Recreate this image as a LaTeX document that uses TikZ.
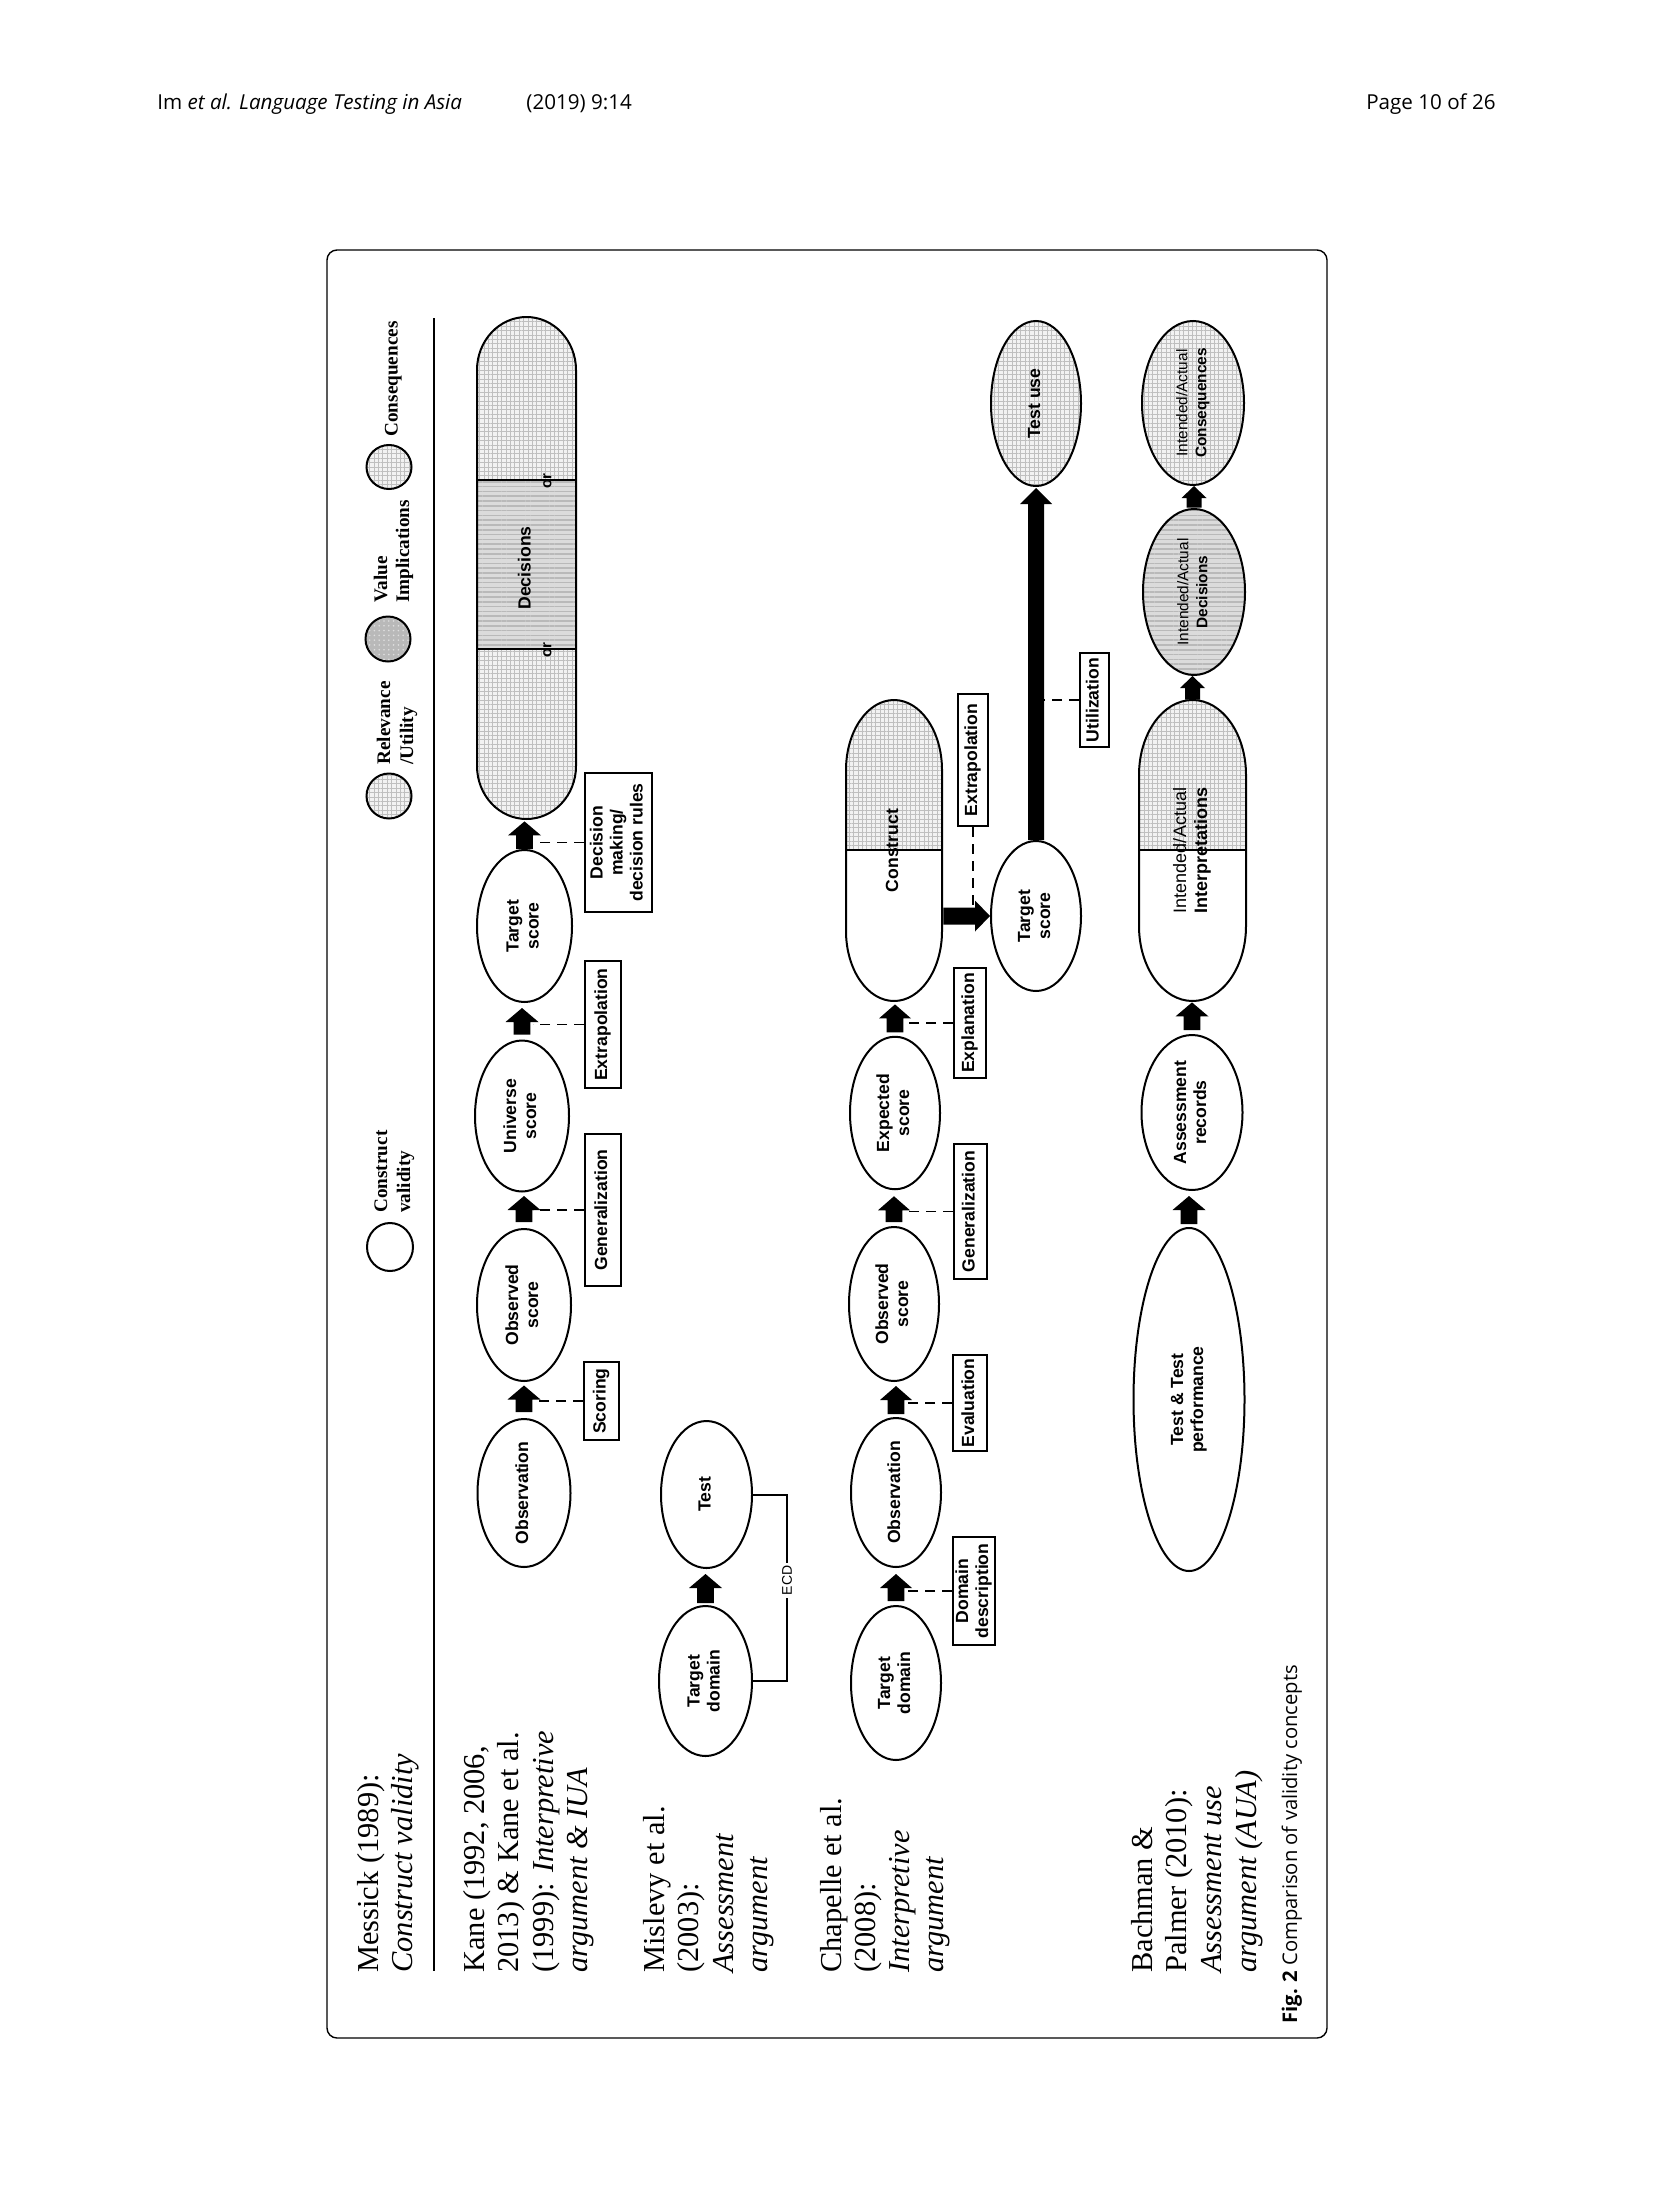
\documentclass[tikz,border=0pt]{standalone}
\usepackage{fontspec}
\usepackage{graphicx}
\setmainfont{Liberation Serif}
\newfontfamily\diagfont{Liberation Sans}
\newfontfamily\capfont{Open Sans}
\usetikzlibrary{shapes.geometric, calc, patterns.meta}

% fonts
\newcommand{\nodefont}{\diagfont\bfseries\fontsize{8.8}{10}\selectfont}
\newcommand{\smallnodefont}{\diagfont\bfseries\fontsize{7.7}{9.5}\selectfont}
\newcommand{\midnodefont}{\diagfont\bfseries\fontsize{9}{10.5}\selectfont}
\newcommand{\rowfont}{\fontsize{15.2}{18}\selectfont}
\newcommand{\legfont}{\bfseries\fontsize{9.6}{12}\selectfont}

% text turned to read from bottom to top
\newcommand{\rt}[1]{\rotatebox{90}{\begin{tabular}{@{}c@{}}#1\end{tabular}}}

% block arrow pointing up: from, to, gap at start, gap at end, shaft half width, head half width, head length
\newcommand{\blkup}[7]{%
  \fill let \p1=(#1), \p2=(#2) in
    (\x1-#5,\y1+#3) -- (\x1-#5,\y2-#4-#7) -- (\x1-#6,\y2-#4-#7) -- (\x1,\y2-#4)
    -- (\x1+#6,\y2-#4-#7) -- (\x1+#5,\y2-#4-#7) -- (\x1+#5,\y1+#3) -- cycle;}
% block arrow pointing right
\newcommand{\blkright}[7]{%
  \fill let \p1=(#1), \p2=(#2) in
    (\x1+#3,\y2-#5) -- (\x2-#4-#7,\y2-#5) -- (\x2-#4-#7,\y2-#6) -- (\x2-#4,\y2)
    -- (\x2-#4-#7,\y2+#6) -- (\x2-#4-#7,\y2+#5) -- (\x1+#3,\y2+#5) -- cycle;}

\tikzset{
  ell/.style={ellipse, draw, line width=1pt, inner sep=0pt, font=\nodefont},
  lbl/.style={rectangle, draw, line width=1pt, inner sep=0pt, font=\nodefont},
  area/.style={rectangle, inner sep=0pt, font=\nodefont},
  dsh/.style={line width=0.8pt, dash pattern=on 5pt off 3.5pt},
  gridfill/.style={preaction={fill=gray!10},
    preaction={pattern={Lines[angle=0,distance=2.2pt,line width=0.45pt]}, pattern color=gray!50},
    preaction={pattern={Lines[angle=90,distance=2.2pt,line width=0.45pt]}, pattern color=gray!50}},
  stripefill/.style={preaction={fill=gray!28},
    preaction={pattern={Lines[angle=0,distance=2.4pt,line width=0.8pt]}, pattern color=gray!55}},
  darkfill/.style={preaction={fill=gray!55},
    preaction={pattern={Dots[distance=2.4pt,radius=0.45pt]}, pattern color=gray!25}},
  rowlab/.style={rotate=90, anchor=base west, inner sep=0pt, font=\rowfont},
  leglab/.style={rotate=90, anchor=base west, inner sep=0pt, font=\legfont},
}

\begin{document}
\begin{tikzpicture}[x=0.5pt, y=-0.5pt]
\fill[white] (0,0) rectangle (1654,2205);
\useasboundingbox (0,0) rectangle (1654,2205);

% running head
\node[anchor=base west, inner sep=0pt, font=\capfont\fontsize{10.3}{12}\selectfont] (hd1) at (157,110) {Im \textit{et al. Language Testing in Asia}};
\node[anchor=base west, inner sep=0pt, font=\capfont\fontsize{10.3}{12}\selectfont] (hd2) at (526,110) {(2019) 9:14};
\node[anchor=base east, inner sep=0pt, font=\capfont\fontsize{10.3}{12}\selectfont] (hd3) at (1496,110) {Page 10 of 26};

% frame
\draw[line width=0.7pt, rounded corners=5pt] (327,250) rectangle (1327,2038);
\draw[line width=0.6pt] (434,318) -- (434,1971);

% legend
\node[ell, minimum width=23pt, minimum height=24pt] (lcv) at (390,1247) {};
\node[leglab] (lcv1) at (387,1213) {Construct};
\node[leglab] (lcv2) at (410,1213) {validity};
\node[ell, gridfill, minimum width=22.5pt, minimum height=22.5pt] (lrel) at (389,796) {};
\node[leglab] (lrel1) at (390,765) {Relevance};
\node[leglab] (lrel2) at (413,765) {/Utility};
\node[ell, darkfill, minimum width=22.5pt, minimum height=22.5pt] (lval) at (388,639) {};
\node[leglab] (lval1) at (387,603) {Value};
\node[leglab] (lval2) at (409,603) {Implications};
\node[ell, gridfill, minimum width=22.5pt, minimum height=22pt] (lcons) at (389,467) {};
\node[leglab] (lcons1) at (397.5,437) {Consequences};

% row labels
\node[rowlab] (me1) at (378,1973) {Messick (1989):};
\node[rowlab] (me2) at (412,1973) {\textit{Construct validity}};
\node[rowlab] (ka1) at (484,1973) {Kane (1992, 2006,};
\node[rowlab] (ka2) at (518.5,1973) {2013) \& Kane et al.};
\node[rowlab] (ka3) at (553,1973) {(1999): \textit{Interpretive}};
\node[rowlab] (ka4) at (587,1973) {\textit{argument \& IUA}};
\node[rowlab] (mi1) at (664,1973) {Mislevy et al.};
\node[rowlab] (mi2) at (698.5,1973) {(2003):};
\node[rowlab] (mi3) at (733,1973) {\textit{Assessment}};
\node[rowlab] (mi4) at (767.5,1973) {\textit{argument}};
\node[rowlab] (ch1) at (841,1973) {Chapelle et al.};
\node[rowlab] (ch2) at (875,1973) {(2008):};
\node[rowlab] (ch3) at (909.5,1973) {\textit{Interpretive}};
\node[rowlab] (ch4) at (943.5,1973) {\textit{argument}};
\node[rowlab] (ba1) at (1152,1973) {Bachman \&};
\node[rowlab] (ba2) at (1186.5,1973) {Palmer (2010):};
\node[rowlab] (ba3) at (1221,1973) {\textit{Assessment use}};
\node[rowlab] (ba4) at (1256,1973) {\textit{argument (AUA)}};

% ---------- Kane ----------
\begin{scope}
  \clip (477,370) -- (477,766) arc[start angle=180,end angle=360,x radius=24.75pt,y radius=26.5pt]
    -- (576,370) arc[start angle=0,end angle=180,x radius=24.75pt,y radius=26.5pt] -- cycle;
  \path[gridfill] (470,300) rectangle (585,480);
  \path[stripefill] (470,480) rectangle (585,649);
  \path[gridfill] (470,649) rectangle (585,825);
\end{scope}
\draw[line width=1pt] (477,370) -- (477,766) arc[start angle=180,end angle=360,x radius=24.75pt,y radius=26.5pt]
    -- (576,370) arc[start angle=0,end angle=180,x radius=24.75pt,y radius=26.5pt] -- cycle;
\draw[line width=1pt] (477,480) -- (576,480);
\draw[line width=1pt] (477,649) -- (576,649);
\node[area, minimum width=49.5pt, minimum height=251pt] (kdec) at (526.5,568) {\rt{Decisions}};
\node[inner sep=0pt, font=\diagfont\bfseries\fontsize{7.5}{8}\selectfont] (kor1) at (547.5,481) {\rotatebox{90}{or}};
\node[inner sep=0pt, font=\diagfont\bfseries\fontsize{7.5}{8}\selectfont] (kor2) at (547.5,650) {\rotatebox{90}{or}};

\node[ell, minimum width=46.5pt, minimum height=74pt] (kobs) at (524,1493) {\rt{Observation}};
\node[ell, minimum width=47pt, minimum height=76pt] (kosc) at (524,1305) {\rt{Observed\\score}};
\node[ell, minimum width=47pt, minimum height=75.5pt] (kusc) at (522,1116) {\rt{Universe\\score}};
\node[ell, minimum width=47.5pt, minimum height=76pt] (ktsc) at (524.5,926) {\rt{Target\\score}};

\node[lbl, minimum width=17.5pt, minimum height=39.25pt] (kscb) at (601.5,1401) {\rt{Scoring}};
\node[lbl, minimum width=18pt, minimum height=76pt] (kgenb) at (603,1210) {\rt{Generalization}};
\node[lbl, minimum width=18pt, minimum height=63.5pt] (kextb) at (603,1024.5) {\rt{Extrapolation}};
\node[lbl, minimum width=33.5pt, minimum height=69.5pt] (kdmb) at (618.5,842.5) {\rt{Decision\\making/\\decision rules}};

\blkup{kobs.north}{kosc.south}{3pt}{1.75pt}{4.2pt}{8.25pt}{7pt}
\blkup{kosc.north}{kusc.south}{3pt}{1.75pt}{4.2pt}{8.25pt}{7pt}
\blkup{kusc.north}{ktsc.south}{2.5pt}{2.5pt}{4.2pt}{8.25pt}{7pt}
\blkup{ktsc.north}{kdec.south}{0pt}{1pt}{4.2pt}{8.25pt}{7pt}

\draw[dsh] (kscb.west) -- ($(kscb.west -| kobs.center)+(9,0)$);
\draw[dsh] (kgenb.west) -- ($(kgenb.west -| kosc.center)+(9,0)$);
\draw[dsh] (kextb.west) -- ($(kextb.west -| kusc.center)+(11,0)$);
\draw[dsh] (kdmb.west) -- ($(kdmb.west -| ktsc.center)+(9,0)$);

% ---------- Mislevy ----------
\node[ell, minimum width=45.5pt, minimum height=73.5pt] (mtest) at (706.5,1494.5) {\rt{Test}};
\node[ell, minimum width=46.5pt, minimum height=75pt] (mtd) at (705.5,1681) {\rt{Target\\domain}};
\blkup{mtd.north}{mtest.south}{1pt}{2.5pt}{4.2pt}{8.25pt}{7pt}
\draw[line width=1pt] (mtest.east) -- ++(17pt,0) |- node[pos=0.23, fill=white, inner sep=1.5pt, font=\diagfont\fontsize{7}{8}\selectfont] (ecd) {\rotatebox{90}{ECD}} (mtd.east);

% ---------- Chapelle ----------
\begin{scope}
  \clip (846,770) -- (846,931) arc[start angle=180,end angle=360,x radius=24pt,y radius=35pt]
    -- (942,770) arc[start angle=0,end angle=180,x radius=24pt,y radius=35pt] -- cycle;
  \path[gridfill] (840,690) rectangle (950,850);
\end{scope}
\draw[line width=1pt] (846,770) -- (846,931) arc[start angle=180,end angle=360,x radius=24pt,y radius=35pt]
    -- (942,770) arc[start angle=0,end angle=180,x radius=24pt,y radius=35pt] -- cycle;
\draw[line width=1pt] (846,850) -- (942,850);
\node[area, minimum width=48pt, minimum height=150.5pt] (ccon) at (894,850.5) {\rt{Construct}};

\node[ell, minimum width=45pt, minimum height=77pt] (ctd) at (896,1683) {\rt{Target\\domain}};
\node[ell, minimum width=45pt, minimum height=74.5pt] (cobs) at (896,1492.5) {\rt{Observation}};
\node[ell, minimum width=45pt, minimum height=77pt] (cosc) at (894,1304) {\rt{Observed\\score}};
\node[ell, minimum width=45pt, minimum height=76.25pt] (cesc) at (895,1113) {\rt{Expected\\score}};
\node[ell, minimum width=45pt, minimum height=75pt] (ctsc) at (1036,916) {\rt{Target\\score}};
\node[ell, gridfill, minimum width=45pt, minimum height=82.5pt] (ctu) at (1036,403.5) {\rt{Test use}};

\node[lbl, minimum width=21pt, minimum height=54.25pt] (cddb) at (974,1591) {\rt{Domain\\description}};
\node[lbl, minimum width=17pt, minimum height=48pt] (cevb) at (970,1403) {\rt{Evaluation}};
\node[lbl, minimum width=16.5pt, minimum height=67.5pt] (cgenb) at (970.5,1211.5) {\rt{Generalization}};
\node[lbl, minimum width=16pt, minimum height=55pt] (cexpb) at (970,1023) {\rt{Explanation}};
\node[lbl, minimum width=15pt, minimum height=66pt] (cextb) at (973,760) {\rt{Extrapolation}};
\node[lbl, minimum width=14.5pt, minimum height=47pt] (cutb) at (1094.5,700) {\rt{Utilization}};

\blkup{ctd.north}{cobs.south}{2pt}{3pt}{4.2pt}{8pt}{7pt}
\blkup{cobs.north}{cosc.south}{1.5pt}{2pt}{4.2pt}{8pt}{7pt}
\blkup{cosc.north}{cesc.south}{2pt}{3pt}{4.2pt}{8pt}{7pt}
\blkup{cesc.north}{ccon.south}{1.75pt}{1.5pt}{4.2pt}{8pt}{7pt}
\blkright{ccon.east |- ctsc.west}{ctsc.west}{0.5pt}{0pt}{4.25pt}{7.75pt}{7.5pt}
\blkup{ctsc.north}{ctu.south}{0pt}{0.5pt}{4pt}{8pt}{8pt}

\draw[dsh] (cddb.west) -- ($(cddb.west -| ctd.center)+(11,0)$);
\draw[dsh] (cevb.west) -- ($(cevb.west -| cobs.center)+(11,0)$);
\draw[dsh] (cgenb.west) -- ($(cgenb.west -| cosc.center)+(11,0)$);
\draw[dsh] (cexpb.west) -- ($(cexpb.west -| cesc.center)+(11,0)$);
\draw[dsh] (cextb.south) -- ($(cextb.south |- ctsc.west)+(0,-9)$);
\draw[dsh] (cutb.west) -- ($(cutb.west -| ctsc.center)+(8,0)$);

% ---------- Bachman & Palmer ----------
\begin{scope}
  \clip (1139,775) -- (1139,926) arc[start angle=180,end angle=360,x radius=26.75pt,y radius=37.5pt]
    -- (1246,775) arc[start angle=0,end angle=180,x radius=26.75pt,y radius=37.5pt] -- cycle;
  \path[gridfill] (1130,690) rectangle (1255,850);
\end{scope}
\draw[line width=1pt] (1139,775) -- (1139,926) arc[start angle=180,end angle=360,x radius=26.75pt,y radius=37.5pt]
    -- (1246,775) arc[start angle=0,end angle=180,x radius=26.75pt,y radius=37.5pt] -- cycle;
\draw[line width=1pt] (1139,850) -- (1246,850);
\node[area, font=\midnodefont, minimum width=53.5pt, minimum height=150.5pt] (bint) at (1192.5,850.5) {\rt{\mdseries Intended/Actual\\Interpretations}};

\node[ell, minimum width=55.5pt, minimum height=171.5pt] (bttp) at (1189,1399.5) {\rt{Test \& Test\\performance}};
\node[ell, minimum width=50.5pt, minimum height=77.5pt] (bar) at (1192,1112.5) {\rt{Assessment\\records}};
\node[ell, stripefill, font=\smallnodefont, minimum width=51pt, minimum height=83pt] (bdec) at (1194,592) {\rt{\mdseries Intended/Actual\\Decisions}};
\node[ell, gridfill, font=\smallnodefont, minimum width=51pt, minimum height=82pt] (bcon) at (1193,403) {\rt{\mdseries Intended/Actual\\Consequences}};

\blkup{bttp.north}{bar.south}{1.5pt}{2.5pt}{4.2pt}{8.25pt}{7pt}
\blkup{bar.north}{bint.south}{2pt}{0.5pt}{4.2pt}{8.25pt}{7pt}
\blkup{bint.north}{bdec.south}{0pt}{0pt}{3.75pt}{6.25pt}{6pt}
\blkup{bdec.north}{bcon.south}{0.25pt}{0pt}{3.75pt}{6.25pt}{6pt}

% caption
\node[rotate=90, anchor=base west, inner sep=0pt, font=\capfont\fontsize{10.1}{12}\selectfont] (cap) at (1297,2024) {\textbf{Fig. 2} Comparison of validity concepts};
\end{tikzpicture}
\end{document}
